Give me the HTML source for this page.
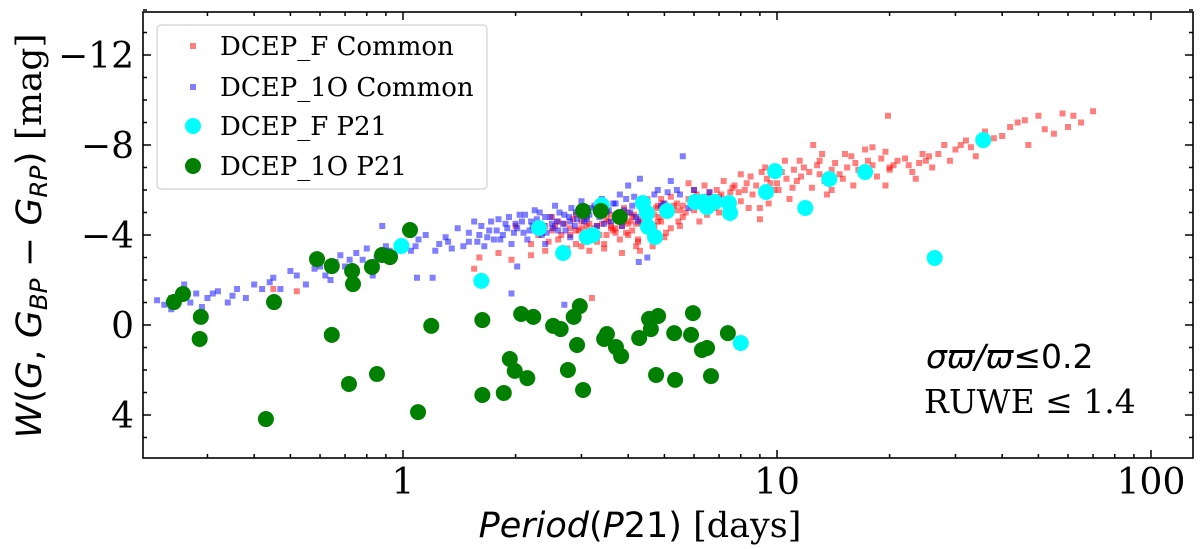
<!DOCTYPE html>
<html><head><meta charset="utf-8"><style>
html,body{margin:0;padding:0;background:#fff;width:1200px;height:549px;overflow:hidden}
svg text{font-family:"DejaVu Serif","Liberation Serif",serif}
.it{font-family:"DejaVu Sans","Liberation Sans",sans-serif;font-style:italic}
.sans{font-family:"DejaVu Sans","Liberation Sans",sans-serif}
</style></head><body>
<svg id="chart" width="1200" height="549" viewBox="0 0 1200 549" xmlns="http://www.w3.org/2000/svg">
<rect x="0" y="0" width="1200" height="549" fill="#fff"/>
<g id="marks"></g>
<g id="axes"></g>
<g id="legend">
 <rect x="157" y="25" width="330" height="164" rx="4" fill="#fff" fill-opacity="0.85" stroke="#d0d0d0" stroke-width="1.2"/>
 <rect x="190" y="43" width="6" height="6" fill="#ff0000" fill-opacity="0.5"/>
 <text x="220" y="55" font-size="26">DCEP_F Common</text>
 <rect x="190" y="84" width="6" height="6" fill="#0000ff" fill-opacity="0.5"/>
 <text x="220" y="96" font-size="26">DCEP_1O Common</text>
 <circle cx="193" cy="126" r="8" fill="#00ffff"/>
 <text x="220" y="135" font-size="26">DCEP_F P21</text>
 <circle cx="193" cy="166" r="8" fill="#008000"/>
 <text x="220" y="175" font-size="26">DCEP_1O P21</text>
</g>
<text x="926" y="368" font-size="33"><tspan class="it">σϖ/ϖ</tspan><tspan class="sans">≤0.2</tspan></text>
<text x="924" y="413" font-size="33">RUWE ≤ 1.4</text>
<text x="640" y="537" font-size="35" text-anchor="middle"><tspan class="it">Period</tspan><tspan class="sans">(</tspan><tspan class="it">P</tspan><tspan class="sans">21)</tspan> [days]</text>
<text transform="translate(41,236) rotate(-90)" font-size="35" text-anchor="middle" textLength="405" lengthAdjust="spacingAndGlyphs"><tspan class="it">W</tspan><tspan class="sans">(</tspan><tspan class="it">G</tspan><tspan class="sans">, </tspan><tspan class="it">G</tspan><tspan class="it" font-size="24" dy="6">BP</tspan><tspan class="sans" dy="-6"> − </tspan><tspan class="it">G</tspan><tspan class="it" font-size="24" dy="6">RP</tspan><tspan class="sans" dy="-6">)</tspan> [mag]</text>
</svg>
<script>
// ---- data ----
const fCommonP = [0.45,0.52,1.6,1.8,2.0,1.55,1.95,2.2,2.3,2.4,2.5,2.6,2.7,2.8,2.9,3.0,3.1,3.2,3.3,3.4,3.5,3.6,3.7,3.8,3.9,4.0,4.1,4.2,4.3,4.4,4.5,4.6,4.7,4.8,4.9,5.0,5.2,5.4,5.6,5.8,6.0,6.2,6.4,6.6,6.8,7.0,7.3,7.6,8.0,8.3,8.6,9.0,9.4,9.8,10.3,10.8,11.3,11.8,12.4,13.0,13.6,14.3,15.0,15.8,16.5,17.5,18.5,19.5,20.5,22,23,24.5,26,28,30,32,34,36,40,44,47,50,52,62,65,70,3.2,19.8,12.5,2.5,3.0,3.5,4.0,4.5,5.0,5.5,6.0,7.0,8.0,3.3,3.8,4.2,2.8,5.3,6.5,9.5,11,13,16,20,25,18,14,10,12,9.0,4.3,2.2,3.6,4.8,5.9,7.5,2.9];
const fCommonW = [-1.6,-1.5,-3.0,-3.2,-4.4,-2.5,-2.9,-3.6,-4.0,-3.3,-4.2,-3.8,-4.5,-4.0,-3.6,-4.3,-4.8,-4.1,-3.7,-4.5,-4.0,-4.9,-4.3,-3.8,-4.6,-5.0,-4.2,-3.5,-4.7,-5.2,-4.4,-3.9,-4.9,-5.3,-4.6,-5.0,-4.3,-5.4,-4.8,-5.6,-5.1,-4.6,-5.5,-5.9,-5.2,-5.7,-4.9,-6.1,-5.5,-6.3,-5.8,-5.2,-6.5,-6.0,-6.8,-5.6,-6.4,-7.0,-6.1,-6.7,-5.8,-7.2,-6.5,-7.5,-6.9,-7.3,-6.6,-7.7,-7.1,-7.4,-6.8,-7.6,-7.0,-8.0,-7.8,-8.2,-7.5,-8.6,-8.4,-9.0,-8.0,-9.3,-8.7,-9.3,-9.0,-9.5,-1.2,-9.3,-8.0,-4.8,-3.5,-5.1,-4.0,-5.6,-3.9,-4.4,-6.0,-5.0,-6.7,-4.4,-4.7,-4.5,-4.3,-5.1,-4.9,-5.4,-6.1,-7.3,-6.2,-6.9,-7.3,-7.9,-6.0,-6.3,-5.3,-4.7,-3.3,-3.1,-4.4,-4.6,-5.3,-5.9,-4.2];
const fExtraP = [2.35,2.45,2.55,2.65,2.75,2.85,2.95,3.05,3.15,3.25,3.35,3.45,3.55,3.65,3.75,3.85,3.95,4.05,4.15,4.25,4.35,4.45,4.55,4.65,4.75,4.85,4.95,5.1,5.3,5.5,5.7,5.9,6.1,6.3,6.5,6.7,6.9,7.1,7.4,7.7,7.9,8.2,8.5,8.8,9.1,9.6,10.1,10.6,11.1,11.6,12.2,12.8,13.4,14.0,14.7,15.4,16.2,17.0,18.0,19.0,20.0,21.0,22.5,24,25.5,27,29,31,33,38,42,46,55,58,60];
const fExtraW = [-4.1,-3.7,-4.4,-4.0,-3.4,-4.7,-4.2,-3.9,-4.5,-4.3,-4.0,-3.6,-4.6,-4.2,-4.8,-4.4,-4.1,-4.6,-4.9,-3.8,-4.5,-5.0,-4.7,-4.3,-5.2,-4.8,-5.4,-4.9,-5.3,-5.1,-5.0,-5.5,-5.8,-5.3,-5.7,-5.5,-6.0,-5.8,-5.6,-6.2,-5.9,-6.0,-6.6,-6.2,-6.8,-6.3,-6.0,-6.5,-6.9,-6.6,-6.8,-7.1,-6.4,-6.9,-6.7,-7.0,-7.2,-6.8,-7.1,-7.4,-7.0,-7.3,-7.1,-7.2,-7.5,-7.6,-7.3,-8.0,-7.9,-8.3,-8.8,-9.1,-8.5,-9.4,-8.8];
const fCoreP = [2.6,2.9,3.1,3.3,3.5,3.7,3.9,4.1,4.3,4.5,4.7,4.9,5.2,5.6,6.0,2.75,3.15,3.45,3.85,4.25,4.65,5.05,5.45,6.4,7.2,8.4,9.3,10.5,11.5,13.2,15.2,17.2,19.5,23.5,2.4,3.0,3.6,4.0,4.6,5.8];
const fCoreW = [-4.6,-4.9,-4.4,-5.0,-4.7,-4.1,-5.2,-4.8,-5.3,-4.9,-4.4,-5.6,-5.7,-5.3,-5.4,-3.2,-3.3,-3.4,-3.2,-3.7,-3.5,-4.1,-4.6,-6.2,-6.4,-5.2,-7.0,-7.3,-7.3,-7.6,-7.6,-7.8,-6.2,-6.5,-4.4,-4.6,-4.3,-4.5,-4.2,-6.3];
const oCommonP = [0.22,0.23,0.24,0.25,0.26,0.27,0.28,0.29,0.3,0.32,0.34,0.36,0.38,0.42,0.45,0.47,0.5,0.52,0.55,0.6,0.62,0.64,0.66,0.68,0.7,0.73,0.75,0.78,0.8,0.83,0.85,0.9,0.95,1.0,1.05,1.1,1.15,1.2,1.25,1.3,1.35,1.4,1.5,1.55,1.6,1.65,1.7,1.75,1.8,1.85,1.9,1.95,2.0,2.05,2.1,2.15,2.2,2.25,2.3,2.35,2.4,2.5,2.55,2.6,2.7,2.8,2.9,3.0,3.1,3.2,3.3,3.4,3.5,3.6,3.7,3.8,3.9,4.0,4.1,4.2,4.3,4.4,4.6,4.8,5.0,5.2,5.5,5.8,6.0,6.3,6.6,7.0,3.2,2.8,2.4,4.5,2.02,1.09,1.95,2.7,4.27,4.5,5.6,0.88];
const oCommonW = [-1.1,-0.9,-0.7,-1.3,-1.8,-1.0,-1.4,-0.8,-1.2,-1.5,-1.0,-1.6,-1.2,-1.6,-2.1,-1.6,-2.4,-2.2,-1.8,-2.6,-2.2,-2.0,-2.8,-3.1,-2.6,-1.7,-3.2,-2.9,-3.4,-2.2,-3.0,-3.5,-3.1,-3.6,-3.3,-3.8,-4.0,-2.1,-3.6,-3.9,-3.4,-4.3,-3.7,-4.6,-4.0,-3.5,-4.2,-3.8,-4.7,-4.0,-4.3,-3.6,-4.5,-4.9,-4.1,-3.8,-4.6,-5.1,-4.3,-4.0,-4.8,-4.5,-5.3,-4.2,-4.9,-4.6,-5.0,-5.5,-4.7,-5.2,-4.4,-5.6,-5.0,-4.6,-5.4,-5.8,-5.1,-6.2,-5.3,-4.8,-6.5,-5.6,-5.0,-6.0,-5.4,-6.4,-5.8,-5.2,-6.0,-5.5,-5.9,-5.6,-4.0,-3.9,-3.6,-4.2,-2.6,-2.1,-1.4,-0.9,-2.8,-3.0,-7.5,-4.4];
const oExtraP = [1.45,1.5,1.58,1.62,1.68,1.72,1.78,1.82,1.88,1.92,1.98,2.02,2.08,2.12,2.18,2.22,2.28,2.32,2.38,2.42,2.48,2.52,2.58,2.62,2.68,2.72,2.78,2.82,2.88,2.92,2.98,3.05,3.15,3.25,3.35,3.45,3.55,3.65,3.75,3.85,3.95,4.05,4.15,4.25,4.35,4.5,4.7,4.9,5.1,5.4,0.24,0.31,0.35,0.4,0.44,0.58,0.72,0.92,1.08,1.22,1.32];
const oExtraW = [-3.5,-4.1,-3.7,-4.4,-3.9,-4.6,-4.2,-3.8,-4.5,-4.8,-4.1,-4.3,-4.6,-4.9,-4.2,-4.4,-4.7,-5.0,-4.4,-4.1,-4.8,-4.3,-4.6,-5.0,-4.5,-4.2,-4.8,-5.2,-4.4,-4.7,-5.0,-4.6,-4.9,-5.3,-4.8,-4.5,-5.1,-5.4,-4.9,-4.4,-5.6,-5.0,-5.7,-4.6,-5.2,-5.5,-5.8,-5.3,-5.9,-6.0,-1.2,-1.4,-1.3,-1.8,-1.9,-2.5,-2.9,-3.3,-3.5,-3.3,-3.7];
const fP21P = [0.99,1.62,2.31,2.68,3.1,3.22,3.4,4.38,4.49,4.52,4.72,5.08,6.04,6.34,6.5,6.83,7.44,7.49,9.35,9.88,11.9,13.8,17.2,26.4,35.6,8.0];
const fP21W = [-3.51,-1.96,-4.31,-3.2,-3.91,-4.0,-5.33,-5.42,-4.98,-4.36,-3.91,-5.07,-5.47,-5.47,-5.24,-5.47,-5.42,-4.98,-5.91,-6.84,-5.2,-6.49,-6.8,-2.98,-8.22,0.8];
const oP21P = [0.244,0.258,0.288,0.286,0.452,0.645,0.589,0.645,0.731,0.735,0.826,0.879,0.923,1.044,0.717,0.852,0.43,1.097,1.19,1.63,1.63,1.86,1.93,1.99,2.15,2.07,2.23,2.52,2.64,2.86,2.97,2.92,2.76,3.03,3.51,3.45,3.71,3.83,4.28,4.55,4.81,4.6,5.31,5.89,5.96,6.3,6.5,7.39,4.75,5.34,6.66,3.03,3.38,3.8];
const oP21W = [-1.02,-1.38,-0.36,0.62,-1.02,0.44,-2.93,-2.62,-2.4,-1.82,-2.58,-3.11,-3.02,-4.22,2.62,2.18,4.18,3.87,0.04,-0.22,3.11,3.02,1.51,2.04,2.36,-0.49,-0.36,0.04,0.18,-0.36,-0.84,0.89,2.0,2.89,0.4,0.62,0.98,1.38,0.58,-0.27,-0.4,0.18,0.36,0.44,-0.53,1.11,1.02,0.36,2.22,2.44,2.27,-5.07,-5.07,-4.8];
const yMajorTicks = [-12,-8,-4,0,4];
const yTickLabels = ["−12","−8","−4","0","4"];
const xMajorTicks = [1,10,100];
const xTickLabels = ["1","10","100"];

// ---- axes functions ----
const L=143,R=1193,T=12,B=458;
const xs = p => 403 + 374*Math.log10(p);
const ys = w => 325 + 22.5*w;
const NS="http://www.w3.org/2000/svg";
const marks=document.getElementById('marks');
const axes=document.getElementById('axes');
function mk(tag,attrs,parent){const e=document.createElementNS(NS,tag);for(const k in attrs)e.setAttribute(k,attrs[k]);parent.appendChild(e);return e;}

const defs=mk('defs',{},marks);
const cp=mk('clipPath',{id:'clip'},defs);
mk('rect',{x:L,y:T,width:R-L,height:B-T},cp);
const g=mk('g',{'clip-path':'url(#clip)'},marks);

const allFP=fCommonP.concat(fExtraP,fCoreP), allFW=fCommonW.concat(fExtraW,fCoreW);
const allOP=oCommonP.concat(oExtraP), allOW=oCommonW.concat(oExtraW);

allFP.forEach((p,i)=>{const e=mk('rect',{x:xs(p)-3,y:ys(allFW[i])-3,width:6,height:6,fill:'#ff0000','fill-opacity':0.5},g);

});
allOP.forEach((p,i)=>{const e=mk('rect',{x:xs(p)-3,y:ys(allOW[i])-3,width:6,height:6,fill:'#0000ff','fill-opacity':0.5},g);

});
fP21P.forEach((p,i)=>{const e=mk('circle',{cx:xs(p),cy:ys(fP21W[i]),r:8,fill:'#00ffff'},g);

});
oP21P.forEach((p,i)=>{const e=mk('circle',{cx:xs(p),cy:ys(oP21W[i]),r:8,fill:'#008000'},g);

});

const fr=mk('rect',{x:L,y:T,width:R-L,height:B-T,fill:'none',stroke:'#000','stroke-width':1.6},axes);



for(let w=-14;w<=5;w++){
  const y=ys(w); const major=yMajorTicks.includes(w); const len=major?8:4;
  mk('line',{x1:L,x2:L+len,y1:y,y2:y,stroke:'#000','stroke-width':1.5},axes);
  mk('line',{x1:R,x2:R-len,y1:y,y2:y,stroke:'#000','stroke-width':1.5},axes);
}
yMajorTicks.forEach((w,i)=>{const t=mk('text',{x:L-9,y:ys(w)+13,'font-size':36,'text-anchor':'end'},axes);t.textContent=yTickLabels[i];

});

for(let d=-1;d<=2;d++){for(let m=1;m<=9;m++){
  const p=m*Math.pow(10,d); const x=xs(p); if(x<L||x>R) continue;
  const len=(m===1)?8:4;
  mk('line',{x1:x,x2:x,y1:B,y2:B-len,stroke:'#000','stroke-width':1.5},axes);
  mk('line',{x1:x,x2:x,y1:T,y2:T+len,stroke:'#000','stroke-width':1.5},axes);
}}
xMajorTicks.forEach((p,i)=>{const t=mk('text',{x:xs(p),y:494,'font-size':36,'text-anchor':'middle'},axes);t.textContent=xTickLabels[i];

});
</script>
</body></html>
